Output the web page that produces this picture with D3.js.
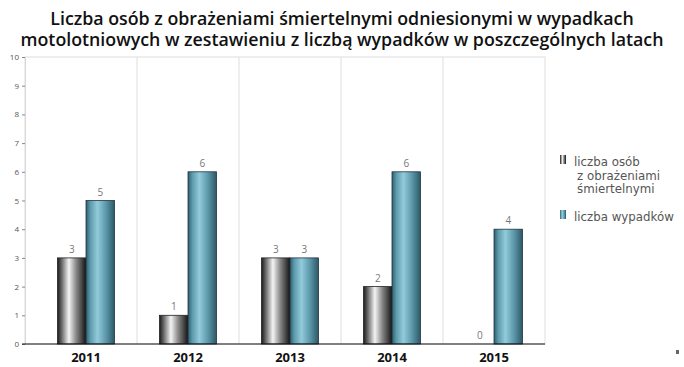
<!DOCTYPE html>
<html>
<head>
<meta charset="utf-8">
<script src="https://cdn.jsdelivr.net/npm/d3@7"></script>
<style>
  body { margin: 0; background: #fff; }
  text { font-family: "Open Sans", "DejaVu Sans", sans-serif; }
</style>
</head>
<body>
<div id="chart"></div>
<script>
var years = ["2011", "2012", "2013", "2014", "2015"];
var killed = [3, 1, 3, 2, 0];
var accidents = [5, 6, 3, 6, 4];
var yTicks = [0, 1, 2, 3, 4, 5, 6, 7, 8, 9, 10];
var seriesNames = [["liczba osób", "z obrażeniami", "śmiertelnymi"], ["liczba wypadków"]];
var titleLines = [
  "Liczba osób z obrażeniami śmiertelnymi odniesionymi w wypadkach",
  "motolotniowych w zestawieniu z liczbą wypadków w poszczególnych latach"
];

var W = 684, H = 367;
var axisX = 25, plotL = 35, plotR = 545, plotT = 57, plotB = 344;

var svg = d3.select("#chart").append("svg")
    .attr("width", W).attr("height", H);

var defs = svg.append("defs");
function grad(id, stops) {
  var g = defs.append("linearGradient").attr("id", id)
      .attr("x1", "0%").attr("x2", "100%").attr("y1", "0%").attr("y2", "0%");
  stops.forEach(function(s) {
    g.append("stop").attr("offset", s[0]).attr("stop-color", s[1]);
  });
}
grad("gDark", [["0%", "#1a1a1a"], ["15%", "#6a6a6a"], ["40%", "#f4f4f4"], ["65%", "#8a8a8a"], ["100%", "#141414"]]);
grad("gTeal", [["0%", "#2e5e6c"], ["15%", "#5d9aab"], ["40%", "#92cbdb"], ["70%", "#5c98aa"], ["100%", "#2c5866"]]);

var x = d3.scaleBand().domain(years).range([plotL, plotR]).paddingInner(0).paddingOuter(0);
var y = d3.scaleLinear().domain([0, 10]).range([plotB, plotT]);
var barW = 28.5;

// title
svg.selectAll(".title").data(titleLines).enter().append("text")
  .attr("x", 342).attr("y", function(d, i) { return 25 + i * 21; })
  .attr("text-anchor", "middle")
  .attr("font-size", 17.8).attr("font-weight", 600).attr("fill", "#111")
  .text(function(d) { return d; });

// plot frame and separators
svg.append("rect").attr("x", axisX).attr("y", plotT).attr("width", plotR - axisX).attr("height", plotB - plotT)
  .attr("fill", "none").attr("stroke", "#dedede");
svg.selectAll(".sep").data(years.slice(1)).enter().append("line")
  .attr("x1", function(d) { return x(d); }).attr("x2", function(d) { return x(d); })
  .attr("y1", plotT).attr("y2", plotB).attr("stroke", "#dedede");

// y axis
var yAxis = svg.append("g").attr("transform", "translate(" + axisX + ",0)")
  .call(d3.axisLeft(y).tickValues(yTicks).tickSize(3).tickPadding(3));
yAxis.select(".domain").attr("stroke", "#d8d8d8");
yAxis.selectAll(".tick line").attr("stroke", "#888");
yAxis.selectAll("text").attr("font-size", 8).attr("fill", "#555");

// bars
var series = [
  { vals: killed, fill: "url(#gDark)", stroke: "#222", off: -barW },
  { vals: accidents, fill: "url(#gTeal)", stroke: "#234", off: 0 }
];
series.forEach(function(s) {
  var g = svg.append("g");
  g.selectAll("rect").data(years).enter().append("rect")
    .attr("x", function(d) { return x(d) + x.bandwidth() / 2 + s.off; })
    .attr("y", function(d, i) { return y(s.vals[i]); })
    .attr("width", barW)
    .attr("height", function(d, i) { return y(0) - y(s.vals[i]); })
    .attr("fill", s.fill)
    .attr("stroke", function(d, i) { return s.vals[i] > 0 ? s.stroke : "none"; })
    .attr("stroke-width", 0.8);
  g.selectAll("text").data(years).enter().append("text")
    .attr("x", function(d) { return x(d) + x.bandwidth() / 2 + s.off + barW / 2; })
    .attr("y", function(d, i) { return y(s.vals[i]) - 5; })
    .attr("text-anchor", "middle").attr("font-size", 10).attr("fill", "#777")
    .text(function(d, i) { return s.vals[i]; });
});

// baseline
svg.append("line").attr("x1", axisX - 3).attr("x2", plotR).attr("y1", plotB).attr("y2", plotB)
  .attr("stroke", "#111").attr("stroke-width", 1.2);

// x labels
svg.selectAll(".xl").data(years).enter().append("text")
  .attr("x", function(d) { return x(d) + x.bandwidth() / 2; })
  .attr("y", 362).attr("text-anchor", "middle")
  .attr("font-size", 13).attr("font-weight", "bold").attr("fill", "#111")
  .text(function(d) { return d; });

// legend
var legY = [166, 221];
var legFill = ["url(#gDark)", "url(#gTeal)"];
seriesNames.forEach(function(lines, i) {
  svg.append("rect").attr("x", 560).attr("y", legY[i] - 11).attr("width", 6).attr("height", 9)
    .attr("fill", legFill[i]);
  lines.forEach(function(line, j) {
    svg.append("text").attr("x", j === 0 ? 574 : 577).attr("y", legY[i] + j * 13.5)
      .style("font-family", "'DejaVu Sans', sans-serif")
      .attr("font-size", 11.8).attr("fill", "#555").text(line);
  });
});

// small mark at bottom right
svg.append("rect").attr("x", 676).attr("y", 350).attr("width", 3).attr("height", 4).attr("fill", "#666");
</script>
</body>
</html>
